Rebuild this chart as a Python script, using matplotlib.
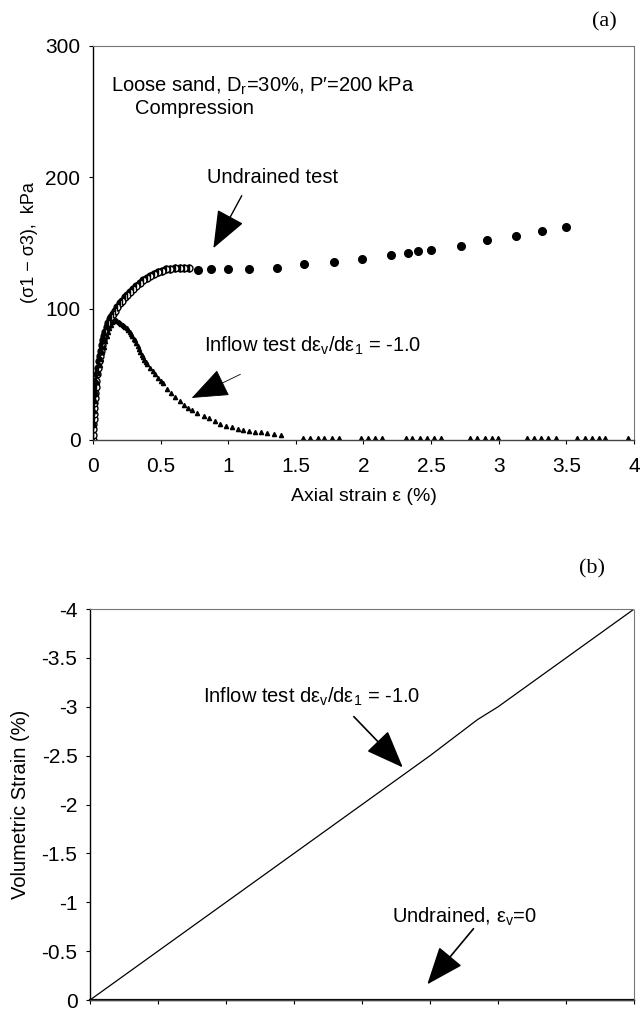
import matplotlib
matplotlib.use("Agg")
import matplotlib.pyplot as plt

plt.rcParams['font.family'] = ['Liberation Sans', 'DejaVu Sans']
plt.rcParams['mathtext.fontset'] = 'custom'
plt.rcParams['mathtext.rm'] = 'Liberation Sans'
plt.rcParams['mathtext.it'] = 'Liberation Sans:italic'

# (a) undrained test, dense early readings
und_strain_dense = [0.000, 0.001, 0.002, 0.003, 0.004, 0.006, 0.008, 0.010, 0.013, 0.016,
                    0.020, 0.025, 0.030, 0.036, 0.042, 0.049, 0.056, 0.064, 0.072, 0.081,
                    0.090, 0.100, 0.111, 0.123, 0.136, 0.150, 0.165, 0.181, 0.198, 0.216,
                    0.235, 0.255, 0.276, 0.298, 0.321, 0.345, 0.370, 0.396, 0.423, 0.451,
                    0.480, 0.510, 0.541, 0.573, 0.606, 0.640, 0.675, 0.710]
und_q_dense = [0, 4, 8, 12, 16, 20, 24, 28, 32, 36,
               40, 45, 50, 55, 60, 64, 68, 72, 76, 79,
               82, 86, 89, 92, 94, 96, 98.5, 101, 104, 106,
               108.5, 110.5, 113, 115, 117.5, 119.5, 121.5, 123.5, 125, 126.5,
               128, 129, 129.8, 130.3, 130.6, 131, 131, 131]
# (a) undrained test, later readings
und_strain = [0.78, 0.87, 1.00, 1.15, 1.36, 1.56, 1.78, 1.99, 2.20, 2.33, 2.40, 2.50,
              2.72, 2.91, 3.13, 3.32, 3.50]
und_q = [129.3, 130, 130, 130, 130.6, 133.9, 135.2, 137.8, 140.8, 142.1, 143.6, 144.6,
         148, 152.3, 155.1, 159.4, 162]

# (a) inflow test
inf_strain = [0, 0.005, 0.01, 0.015, 0.02, 0.03, 0.04, 0.05, 0.06, 0.07, 0.08, 0.09,
              0.10, 0.11, 0.12, 0.13, 0.14, 0.15, 0.16, 0.17, 0.18, 0.19, 0.20, 0.21,
              0.22, 0.23, 0.24, 0.25, 0.26, 0.27, 0.28, 0.29, 0.30, 0.31, 0.32, 0.33,
              0.34, 0.35, 0.36, 0.37, 0.38, 0.39, 0.40, 0.42, 0.44, 0.46, 0.48, 0.50,
              0.52, 0.55, 0.58, 0.61, 0.64, 0.67, 0.70, 0.73, 0.77, 0.82, 0.86, 0.90,
              0.94, 0.98, 1.03, 1.07, 1.11, 1.15, 1.20, 1.24, 1.29, 1.34, 1.39,
              1.554, 1.606, 1.66, 1.709, 1.764, 1.82, 1.985, 2.034, 2.084, 2.14,
              2.313, 2.362, 2.416, 2.468, 2.522, 2.571, 2.788, 2.842, 2.897, 2.948,
              2.998, 3.207, 3.261, 3.315, 3.367, 3.426, 3.581, 3.635, 3.687, 3.741,
              3.786, 3.958]
inf_q = [0, 12, 22, 30, 36, 44, 51, 57, 62, 67, 71, 75,
         79, 82, 85, 87.5, 89.5, 90.5, 91, 91, 90.5, 90, 89, 88,
         87.5, 87, 86, 85, 83.5, 82, 80.5, 79, 77, 76, 74, 71.5,
         69, 67, 65, 63, 61, 59.5, 58, 55, 52.5, 50, 47.5, 45,
         43, 39, 35.5, 32.5, 29.5, 26.5, 24.5, 22.5, 20.5, 18.5, 16.5, 14.5,
         12.5, 11, 9.5, 8.4, 7.5, 6.6, 6.2, 5.8, 5.2, 4.5, 4,
         1.5, 1.5, 1.5, 1.5, 1.5, 1.5, 1.5, 1.5, 1.5, 1.5,
         1.5, 1.5, 1.5, 1.5, 1.5, 1.5, 1.5, 1.5, 1.5, 1.5,
         1.5, 1.5, 1.5, 1.5, 1.5, 1.5, 1.5, 1.5, 1.5, 1.5,
         1.5, 1.5]

# (b) volumetric strain
vol_axial = [0, 0.5, 1.0, 1.1, 1.5, 2.0, 2.5, 2.85, 3.0, 3.5, 4.0]
vol_inflow = [0, -0.5, -1.0, -1.1, -1.5, -2.0, -2.5, -2.87, -3.0, -3.5, -4.0]
vol_undrained = [0, 0]
vol_und_axial = [0, 4]

q_ticks = [0, 100, 200, 300]
strain_ticks = [0, 0.5, 1, 1.5, 2, 2.5, 3, 3.5, 4]
strain_labels = ['0', '0.5', '1', '1.5', '2', '2.5', '3', '3.5', '4']
vol_ticks = [-4, -3.5, -3, -2.5, -2, -1.5, -1, -0.5, 0]
vol_labels = ['-4', '-3.5', '-3', '-2.5', '-2', '-1.5', '-1', '-0.5', '0']

fig = plt.figure(figsize=(6.4, 10.1), dpi=100)

ARROW = dict(arrowstyle='-|>,head_length=1.4,head_width=0.55', color='black',
             mutation_scale=17, shrinkA=0, shrinkB=0)


def style_axes(ax):
    ax.spines['left'].set_color('black')
    ax.spines['left'].set_linewidth(1.0)
    for s in ['top', 'right']:
        ax.spines[s].set_color('#777777')
        ax.spines[s].set_linewidth(0.8)
        ax.spines[s].set_linestyle((0, (1, 1)))
    ax.spines['bottom'].set_color('#444444')
    ax.spines['bottom'].set_linewidth(1.0)
    ax.tick_params(direction='out', length=3, width=0.8, labelsize=15)
    ax.tick_params(axis='x', pad=9)
    ax.tick_params(axis='y', pad=6)


# ---- (a)
ax1 = fig.add_axes([0.1453, 0.5644, 0.8453, 0.3901])
style_axes(ax1)
ax1.plot(und_strain_dense, und_q_dense, 'o', ms=5, fillstyle='left', mfc='black',
         mfcalt='white', mec='black', mew=1.0)
ax1.plot(und_strain, und_q, 'o', ms=5.5, color='black')
ax1.plot(inf_strain, inf_q, '^', ms=3, color='black')
ax1.set_xlim(0, 4)
ax1.set_ylim(0, 300)
ax1.set_xticks(strain_ticks)
ax1.set_xticklabels(strain_labels)
ax1.set_yticks(q_ticks)
ax1.set_xlabel('Axial strain \u03b5 (%)', fontsize=14, labelpad=9)
ax1.set_ylabel('(\u03c31 \u2212 \u03c33),  kPa', fontsize=13, labelpad=5)

ax1.text(0.13, 270, 'Loose sand, D$_\\mathrm{r}$=30%, P\u2032=200 kPa', fontsize=14.5, va='center')
ax1.text(0.31, 252, 'Compression', fontsize=14.5, va='center')
ax1.text(0.84, 200, 'Undrained test', fontsize=14.5, va='center')
ax1.annotate('', xy=(0.89, 146), xytext=(1.10, 186), arrowprops=dict(ARROW, lw=1.0))
ax1.text(0.82, 72, 'Inflow test d\u03b5$_\\mathrm{v}$/d\u03b5$_1$ = -1.0', fontsize=14.5, va='center')
ax1.annotate('', xy=(0.73, 32), xytext=(1.09, 50), arrowprops=dict(ARROW, lw=0.6))

fig.text(0.945, 0.978, '(a)', fontsize=16, family='Liberation Serif', ha='center', va='center')

# ---- (b)
ax2 = fig.add_axes([0.1406, 0.0099, 0.85, 0.387])
style_axes(ax2)
ax2.plot(vol_axial, vol_inflow, color='black', lw=0.9)
ax2.plot(vol_und_axial, vol_undrained, color='black', lw=1.6, clip_on=False)
ax2.set_xlim(0, 4)
ax2.set_ylim(0, -4)
ax2.set_xticks(strain_ticks)
ax2.set_xticklabels([])
ax2.set_yticks(vol_ticks)
ax2.set_yticklabels(vol_labels)
ax2.set_ylabel('Volumetric Strain (%)', fontsize=14.5, labelpad=8)

ax2.text(0.83, -3.1, 'Inflow test d\u03b5$_\\mathrm{v}$/d\u03b5$_1$ = -1.0', fontsize=14.5, va='center')
ax2.annotate('', xy=(2.3, -2.38), xytext=(1.94, -2.9), arrowprops=dict(ARROW, lw=1.2))
ax2.text(2.22, -0.85, 'Undrained, \u03b5$_\\mathrm{v}$=0', fontsize=14.5, va='center')
ax2.annotate('', xy=(2.48, -0.16), xytext=(2.82, -0.73), arrowprops=dict(ARROW, lw=1.2))

fig.text(0.925, 0.437, '(b)', fontsize=16, family='Liberation Serif', ha='center', va='center')

fig.savefig('out.png', dpi=100)
